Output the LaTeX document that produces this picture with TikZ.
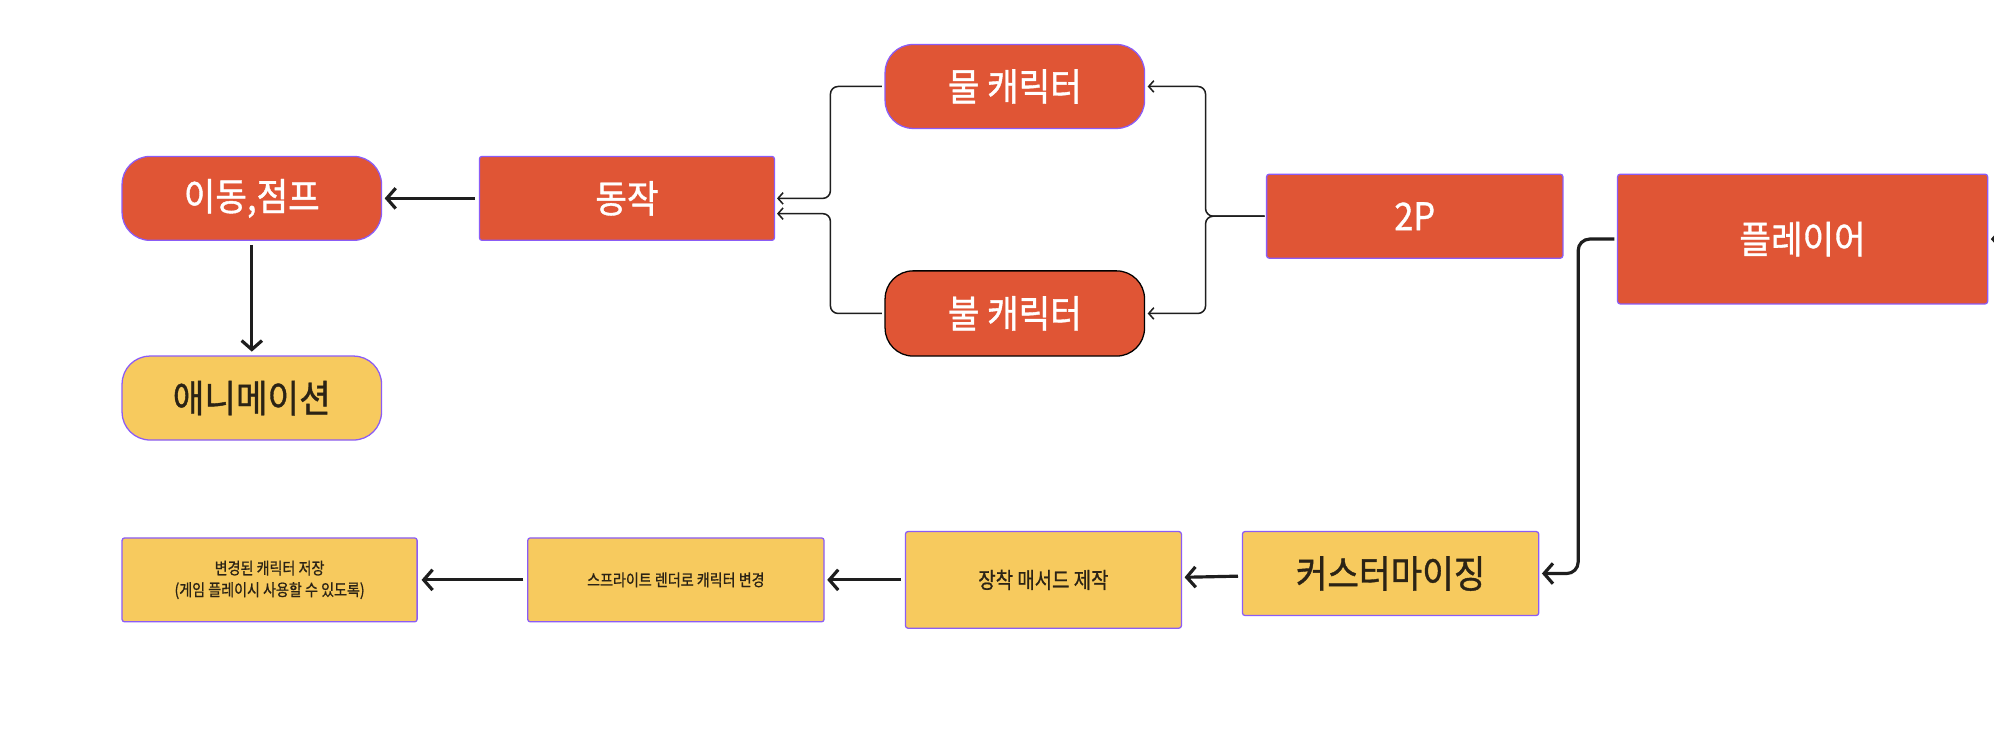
\documentclass[tikz,border=0pt]{standalone}
\usepackage{fontspec}
\setmainfont{Noto Sans CJK KR}
\newfontfamily\bigf{Noto Sans CJK KR}[FakeStretch=0.9, FakeBold=1]
\newfontfamily\smallf{Noto Sans CJK KR}[FakeStretch=0.85, FakeBold=0.8]
\usetikzlibrary{arrows.meta}
\definecolor{ora}{HTML}{E05535}
\definecolor{yel}{HTML}{F7CA5E}
\definecolor{pur}{HTML}{8B5CF6}
\definecolor{ink}{HTML}{1E1E1E}
\definecolor{dtext}{HTML}{2B2315}
\tikzset{
  base/.style={draw=pur, line width=1pt, inner sep=0pt, align=center},
  obox/.style={base, fill=ora, text=white, rounded corners=2pt},
  orbox/.style={base, fill=ora, text=white, rounded corners=22pt},
  ybox/.style={base, fill=yel, text=dtext, rounded corners=2pt},
  yrbox/.style={base, fill=yel, text=dtext, rounded corners=22pt},
  big/.style={font=\bigf\fontsize{30}{36}\selectfont},
  mid/.style={font=\smallf\fontsize{17.5}{21}\selectfont},
  small/.style={font=\smallf\fontsize{13}{17}\selectfont},
  thickarrow/.style={draw=ink, line width=2.5pt, -{Straight Barb[length=7pt,width=16pt,line width=2.5pt]}},
  thinarrow/.style={draw=ink, line width=1.2pt, rounded corners=6pt, -{Straight Barb[length=4pt,width=9pt,line width=1.2pt]}},
}
\begin{document}
\begin{tikzpicture}[x=1pt,y=-1pt]
\useasboundingbox[fill=white] (0,0) rectangle (1568,585);

% nodes
\node[orbox, big, minimum width=204pt, minimum height=66pt] (move) at (198,156) {이동,점프};
\node[obox, big, minimum width=232pt, minimum height=66pt] (act) at (493,156) {동작};
\node[yrbox, big, minimum width=204pt, minimum height=66pt] (anim) at (198,313) {애니메이션};
\node[orbox, big, minimum width=204pt, minimum height=66pt] (water) at (798,68) {물 캐릭터};
\node[orbox, big, draw=black, minimum width=204pt, minimum height=67pt] (fire) at (798,246.5) {불 캐릭터};
\node[obox, big, minimum width=233pt, minimum height=66pt] (twoP) at (1112.5,170) {2P};
\node[obox, big, minimum width=291pt, minimum height=102pt] (player) at (1417.5,188) {플레이어};
\node[ybox, big, minimum width=233pt, minimum height=66pt] (cust) at (1093.5,451) {커스터마이징};
\node[ybox, mid, minimum width=217pt, minimum height=76pt] (equip) at (820.5,456) {장착 매서드 제작};
\node[ybox, small, minimum width=233pt, minimum height=66pt] (sprite) at (531.5,456) {스프라이트 렌더로 캐릭터 변경};
\node[ybox, small, minimum width=232pt, minimum height=66pt] (save) at (212,456) {변경된 캐릭터 저장\\(게임 플레이시 사용할 수 있도록)};

% junction coordinates
\coordinate (jl1) at (653,156);
\coordinate (jl2) at (653,168);
\coordinate (a1) at (611,156);
\coordinate (a2) at (611,168);
\coordinate (jr) at (948,170);
\coordinate (jp) at (1241,188);
\coordinate (offR) at (1620,188);

% thick arrows
\draw[thickarrow, shorten <=3pt, shorten >=2pt] (act.west) -- (move.east);
\draw[thickarrow, shorten <=3pt, shorten >=3pt] (move.south) -- (anim.north);
\draw[thickarrow, shorten <=3pt, shorten >=2pt] ([yshift=-2pt]cust.west) -- ([yshift=2pt]equip.east);
\draw[thickarrow, shorten <=3pt, shorten >=2pt] (equip.west) -- (sprite.east);
\draw[thickarrow, shorten <=3pt, shorten >=3pt] (sprite.west) -- (save.east);
\draw[thickarrow, rounded corners=9pt, shorten <=2pt, shorten >=2pt] (player.west) -- (jp) |- (cust.east);

% thin connectors
\draw[thinarrow, shorten <=2pt] (water.west) -| (jl1) -- (a1);
\draw[thinarrow, shorten <=2pt] (fire.west) -| (jl2) -- (a2);
\draw[thinarrow, shorten <=1pt, shorten >=2pt] (twoP.west) -- (jr) |- (water.east);
\draw[thinarrow, shorten <=1pt, shorten >=2pt] (twoP.west) -- (jr) |- (fire.east);

% arrow entering from beyond the right edge
\begin{scope}
\clip (0,0) rectangle (1568,585);
\draw[thickarrow] (offR) -- ([xshift=2pt]player.east);
\end{scope}
\end{tikzpicture}
\end{document}
